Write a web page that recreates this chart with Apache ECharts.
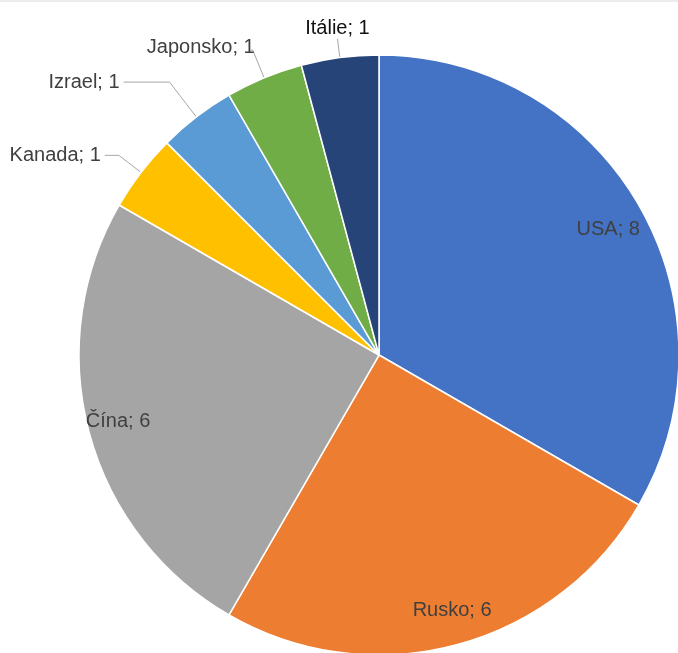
<!DOCTYPE html>
<html>
<head>
<meta charset="utf-8">
<script src="https://cdn.jsdelivr.net/npm/echarts@6/dist/echarts.min.js"></script>
<style>
  html, body { margin: 0; padding: 0; background: #ffffff; }
  #chart { width: 678px; height: 653px; }
</style>
</head>
<body>
<div id="chart"></div>
<script>
// Countries and their counts
const countries = ['USA', 'Rusko', 'Čína', 'Kanada', 'Izrael', 'Japonsko', 'Itálie'];
const counts = [8, 6, 6, 1, 1, 1, 1];
const colors = ['#4472C4', '#ED7D31', '#A5A5A5', '#FFC000', '#5B9BD5', '#70AD47', '#264478'];

// Leader line lengths for the small slices labelled outside
const outsideLines = {
  'Kanada':   [28, 14],
  'Izrael':   [44, 46],
  'Japonsko': [30, 2],
  'Itálie':   [18, 0]
};

// Small nudges of label boxes away from the default spot
const labelNudge = {
  'USA':      [-2, 8],
  'Rusko':    [4, -2],
  'Čína':     [-3, -3],
  'Japonsko': [8, -3]
};

const FONT = "'Liberation Sans', Arial, sans-serif";
const CENTER = [379, 355];
const R = 300;

const sliceData = countries.map((name, i) => {
  const lines = outsideLines[name];
  return {
    name: name,
    value: counts[i],
    itemStyle: { color: colors[i] },
    label: lines ? {
      show: true,
      position: 'outside',
      color: name === 'Itálie' ? '#111111' : '#404040'
    } : { show: false },
    labelLine: lines ? { show: true, length: lines[0], length2: lines[1] } : { show: false }
  };
});

// Transparent ring used only to place the in-slice labels near the rim
const innerLabelData = countries.map((name, i) => ({
  name: name,
  value: counts[i],
  label: { show: !outsideLines[name] }
}));

function nudge(p) {
  const name = countries[p.dataIndex];
  if (name === 'Itálie' && p.labelLinePoints) {
    const pt = p.labelLinePoints[p.labelLinePoints.length - 1];
    return { x: pt[0], y: pt[1] - 1, align: 'center', verticalAlign: 'bottom' };
  }
  const d = labelNudge[name];
  if (d) return { dx: d[0], dy: d[1] };
}

const chart = echarts.init(document.getElementById('chart'), null, { renderer: 'canvas' });

chart.setOption({
  animation: false,
  backgroundColor: '#ffffff',
  graphic: [{
    type: 'line',
    shape: { x1: 0, y1: 1, x2: 678, y2: 1 },
    style: { stroke: '#D9D9D9', lineWidth: 1 },
    silent: true
  }],
  series: [
    {
      type: 'pie',
      center: CENTER,
      radius: R,
      startAngle: 90,
      clockwise: true,
      avoidLabelOverlap: false,
      data: sliceData,
      itemStyle: { borderColor: '#ffffff', borderWidth: 1.5 },
      label: {
        formatter: '{b}; {c}',
        fontFamily: FONT,
        fontSize: 20,
        distanceToLabelLine: 4
      },
      labelLine: {
        lineStyle: { color: '#A6A6A6', width: 1 }
      },
      labelLayout: nudge,
      emphasis: { disabled: true }
    },
    {
      type: 'pie',
      center: CENTER,
      radius: [228, R],
      startAngle: 90,
      clockwise: true,
      silent: true,
      data: innerLabelData,
      itemStyle: { color: 'rgba(0,0,0,0)', borderWidth: 0 },
      label: {
        position: 'inside',
        formatter: '{b}; {c}',
        color: '#404040',
        fontFamily: FONT,
        fontSize: 20
      },
      labelLine: { show: false },
      labelLayout: nudge,
      emphasis: { disabled: true }
    }
  ]
});
</script>
</body>
</html>
